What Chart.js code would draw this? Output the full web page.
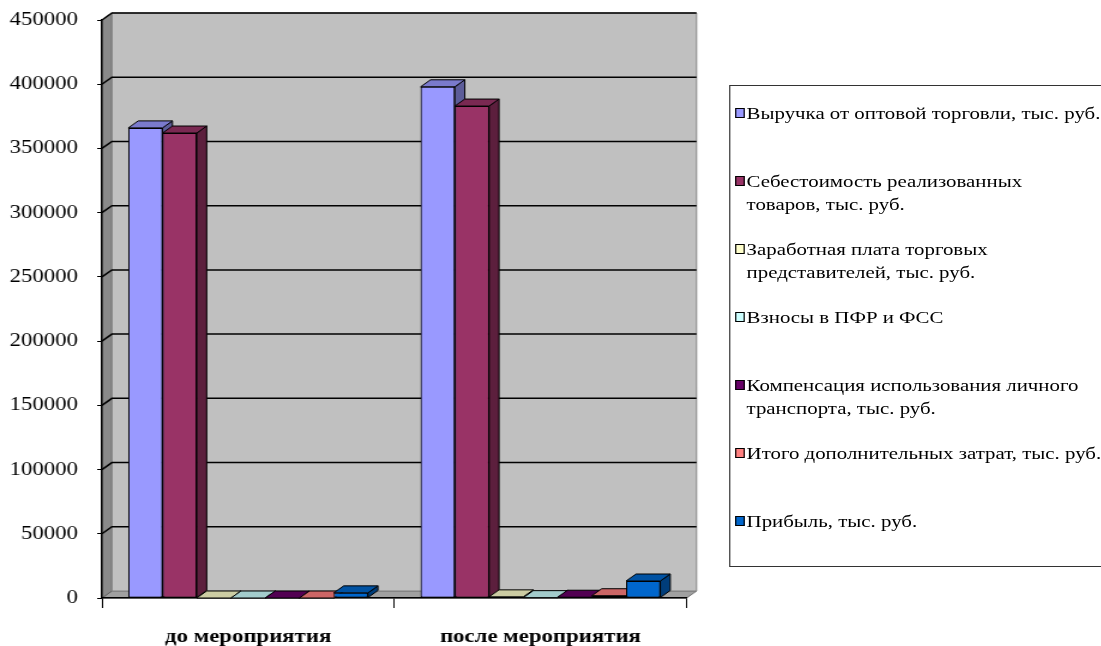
<!DOCTYPE html>
<html>
<head>
<meta charset="utf-8">
<script src="https://cdn.jsdelivr.net/npm/chart.js@4"></script>
<style>
html, body { margin: 0; background: #fff; overflow: hidden; }
#wrap {
    position: relative; width: 918px; height: 646px; overflow: hidden;
    transform: scaleX(1.1993); transform-origin: 0 0;
}
#box { position: absolute; left: 0; top: 0; width: 918px; height: 646px; }
#legend {
    position: absolute; left: 607.5px; top: 85px; width: 340px; height: 482px;
    box-sizing: border-box; border: 1px solid #333; background: #fff;
    padding-top: 16px; font: 17.4px 'Liberation Serif', 'Times New Roman', serif; color: #000;
}
.item { position: relative; height: 68px; padding-left: 14px; line-height: 23px; white-space: nowrap; }
.item i {
    position: absolute; left: 4px; top: 6px; width: 8.3px; height: 10px;
    box-sizing: border-box; border: 1.5px solid #000;
}
</style>
</head>
<body>
<div id="wrap">
    <div id="box"><canvas id="chart"></canvas></div>
    <div id="legend"></div>
</div>
<script>
const categories = ['до мероприятия', 'после мероприятия'];

const seriesNames = [
    ['Выручка от оптовой торговли, тыс. руб.'],
    ['Себестоимость реализованных', 'товаров, тыс. руб.'],
    ['Заработная плата торговых', 'представителей, тыс. руб.'],
    ['Взносы в ПФР и ФСС'],
    ['Компенсация использования личного', 'транспорта, тыс. руб.'],
    ['Итого дополнительных затрат, тыс. руб.'],
    ['Прибыль, тыс. руб.']
];

const revenue = [366000, 398000];
const costOfSales = [362000, 383000];
const salary = [0, 900];
const contributions = [0, 270];
const transport = [0, 600];
const extraCosts = [0, 1770];
const profit = [4000, 13230];

const seriesValues = [revenue, costOfSales, salary, contributions, transport, extraCosts, profit];
const seriesColors = ['#9999ff', '#993366', '#ffffcc', '#ccffff', '#660066', '#ff8080', '#0066cc'];

const yMax = 450000;
const yStep = 50000;

// depth of the 3d box (x is in unscaled px)
const DX = 8.3;
const DY = -7;

function shade(hex, k) {
    const n = parseInt(hex.slice(1), 16);
    const r = Math.round(((n >> 16) & 255) * k);
    const g = Math.round(((n >> 8) & 255) * k);
    const b = Math.round((n & 255) * k);
    return `rgb(${r},${g},${b})`;
}

function poly(ctx, pts, fill, stroke, lw) {
    ctx.beginPath();
    ctx.moveTo(pts[0][0], pts[0][1]);
    for (let i = 1; i < pts.length; i++) ctx.lineTo(pts[i][0], pts[i][1]);
    ctx.closePath();
    ctx.fillStyle = fill;
    ctx.fill();
    if (stroke) {
        ctx.lineWidth = lw || 1;
        ctx.strokeStyle = stroke;
        ctx.stroke();
    }
}

// walls, floor and the grid lines drawn on them
const wallsPlugin = {
    id: 'walls',
    beforeDraw(chart) {
        const { ctx, chartArea: a, scales: { y } } = chart;
        ctx.save();
        poly(ctx, [[a.left, a.bottom], [a.left + DX, a.bottom + DY], [a.right + DX, a.bottom + DY], [a.right, a.bottom]], '#a0a0a0', '#707070');
        poly(ctx, [[a.left, a.top], [a.left + DX, a.top + DY], [a.left + DX, a.bottom + DY], [a.left, a.bottom]], '#8a8a8a', '#606060');
        poly(ctx, [[a.left + DX, a.top + DY], [a.right + DX, a.top + DY], [a.right + DX, a.bottom + DY], [a.left + DX, a.bottom + DY]], '#c0c0c0', '#808080');

        ctx.strokeStyle = '#000';
        ctx.lineWidth = 1.5;
        y.ticks.forEach(t => {
            if (t.value === 0) return;
            const py = y.getPixelForValue(t.value);
            ctx.beginPath();
            ctx.moveTo(a.left, py);
            ctx.lineTo(a.left + DX, py + DY);
            ctx.lineTo(a.right + DX, py + DY);
            ctx.stroke();
        });
        ctx.restore();
    }
};

// side and top of every column, then the front again, left to right,
// so each column hides the side face of the one before it
const facesPlugin = {
    id: 'faces',
    afterDatasetsDraw(chart) {
        const ctx = chart.ctx;
        ctx.save();
        chart.data.datasets.forEach((ds, i) => {
            const color = seriesColors[i];
            chart.getDatasetMeta(i).data.forEach(bar => {
                const { x, y, base, width } = bar.getProps(['x', 'y', 'base', 'width'], true);
                const l = x - width / 2;
                const r = x + width / 2;
                poly(ctx, [[r, y], [r + DX, y + DY], [r + DX, base + DY], [r, base]], shade(color, 0.6), '#000');
                poly(ctx, [[l, y], [l + DX, y + DY], [r + DX, y + DY], [r, y]], shade(color, 0.8), '#000');
                bar.draw(ctx);
            });
        });
        ctx.restore();
    }
};

const datasets = seriesNames.map((name, i) => ({
    label: name.join(' '),
    data: seriesValues[i],
    backgroundColor: seriesColors[i],
    borderColor: '#000',
    borderWidth: 1,
    borderSkipped: false
}));

new Chart(document.getElementById('chart'), {
    type: 'bar',
    data: { labels: categories, datasets: datasets },
    plugins: [wallsPlugin, facesPlugin],
    options: {
        responsive: true,
        maintainAspectRatio: false,
        animation: false,
        layout: { padding: { left: 0, top: 20, right: 345.5, bottom: 0 } },
        categoryPercentage: 0.82,
        barPercentage: 1,
        plugins: { legend: { display: false }, tooltip: { enabled: false } },
        scales: {
            x: {
                afterFit: s => { s.height = 48; },
                grid: { drawOnChartArea: false, tickLength: 10, color: '#000', offset: true },
                border: { color: '#000', width: 1.5 },
                ticks: {
                    color: '#000', padding: 18,
                    font: { family: "'Liberation Serif', serif", size: 19, weight: 'bold' }
                }
            },
            y: {
                min: 0,
                max: yMax,
                afterFit: s => {
                    s.width = 85;
                    s.paddingTop = 0;
                    s.paddingBottom = 0;
                },
                grid: { drawOnChartArea: false, tickLength: 4, color: '#000' },
                border: { color: '#000', width: 1.5 },
                ticks: {
                    stepSize: yStep, color: '#000', padding: 16,
                    font: { family: "'Liberation Serif', serif", size: 19 },
                    callback: v => String(v)
                }
            }
        }
    }
});

// legend
const legend = document.getElementById('legend');
seriesNames.forEach((lines, i) => {
    const item = document.createElement('div');
    item.className = 'item';
    const mark = document.createElement('i');
    mark.style.background = seriesColors[i];
    item.appendChild(mark);
    lines.forEach(line => {
        const d = document.createElement('div');
        d.textContent = line;
        item.appendChild(d);
    });
    legend.appendChild(item);
});
</script>
</body>
</html>
